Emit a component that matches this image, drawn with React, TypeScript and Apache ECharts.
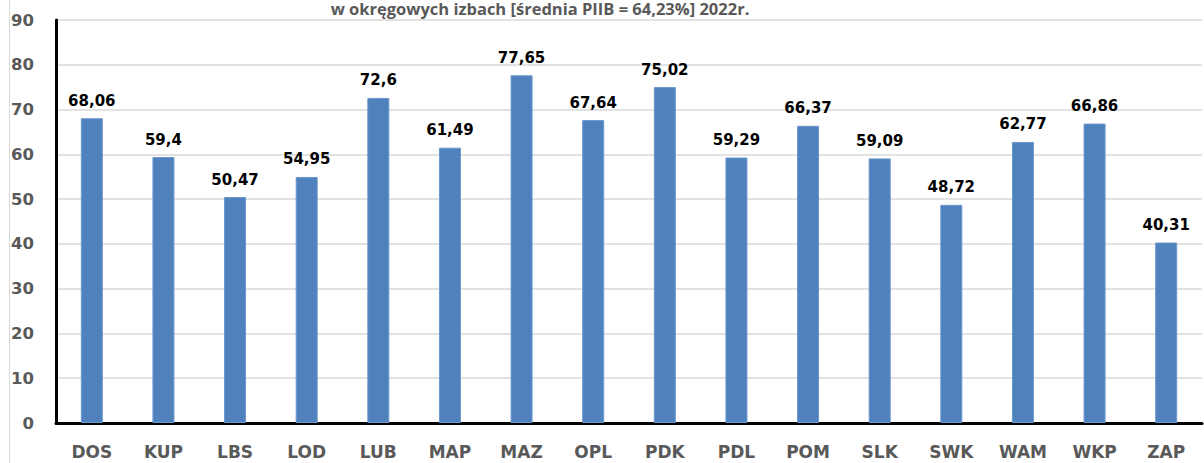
import React, { useEffect, useRef } from "react";
import * as echarts from "echarts";

const categories = ["DOS", "KUP", "LBS", "LOD", "LUB", "MAP", "MAZ", "OPL", "PDK", "PDL", "POM", "SLK", "SWK", "WAM", "WKP", "ZAP"];
const values = [68.06, 59.4, 50.47, 54.95, 72.6, 61.49, 77.65, 67.64, 75.02, 59.29, 66.37, 59.09, 48.72, 62.77, 66.86, 40.31];
const titleText = "w okręgowych izbach [średnia PIIB = 64,23%] 2022r.";

export default function App() {
  const ref = useRef<HTMLDivElement>(null);
  useEffect(() => {
    if (!ref.current) return;
    const chart = echarts.init(ref.current, undefined, { renderer: "svg" });
    chart.setOption({
      animation: false,
      backgroundColor: "#ffffff",
      grid: { left: 56, right: 2, top: 20, bottom: 40, containLabel: false },
      graphic: [
        {
          type: "line",
          shape: { x1: 9.5, y1: 0, x2: 9.5, y2: 463 },
          style: { stroke: "#d9d9d9", lineWidth: 1 },
          z: 0,
        },
        {
          type: "text",
          x: 540,
          y: 0,
          style: {
            text: titleText,
            fontFamily: "Open Sans",
            fontWeight: "bold",
            fontSize: 16.5,
            fill: "#595959",
            align: "center",
            verticalAlign: "top",
          },
        },
      ],
      xAxis: {
        type: "category",
        data: categories,
        axisLine: { show: true, lineStyle: { color: "#000000", width: 3 } },
        axisTick: { show: false },
        axisLabel: {
          margin: 20,
          fontFamily: "DejaVu Sans",
          fontWeight: "bold",
          fontSize: 17,
          color: "#595959",
        },
      },
      yAxis: {
        type: "value",
        min: 0,
        max: 90,
        interval: 10,
        axisLine: { show: true, lineStyle: { color: "#000000", width: 3 } },
        axisTick: { show: false },
        splitLine: { lineStyle: { color: "#d9d9d9", width: 1.5 } },
        axisLabel: {
          margin: 22,
          fontFamily: "DejaVu Sans",
          fontWeight: "bold",
          fontSize: 16.5,
          color: "#595959",
        },
      },
      series: [
        {
          type: "bar",
          data: values,
          barWidth: 22,
          itemStyle: { color: "#4f81bd", borderColor: "#6b97cc", borderWidth: 1 },
          label: {
            show: true,
            position: "top",
            distance: 10,
            fontFamily: "DejaVu Sans",
            fontWeight: "bold",
            fontSize: 15,
            color: "#000000",
            formatter: (p: any) => String(p.value).replace(".", ","),
          },
        },
      ],
    });
    return () => chart.dispose();
  }, []);
  return <div ref={ref} style={{ width: 1204, height: 463, position: "absolute", left: 0, top: 0 }} />;
}
